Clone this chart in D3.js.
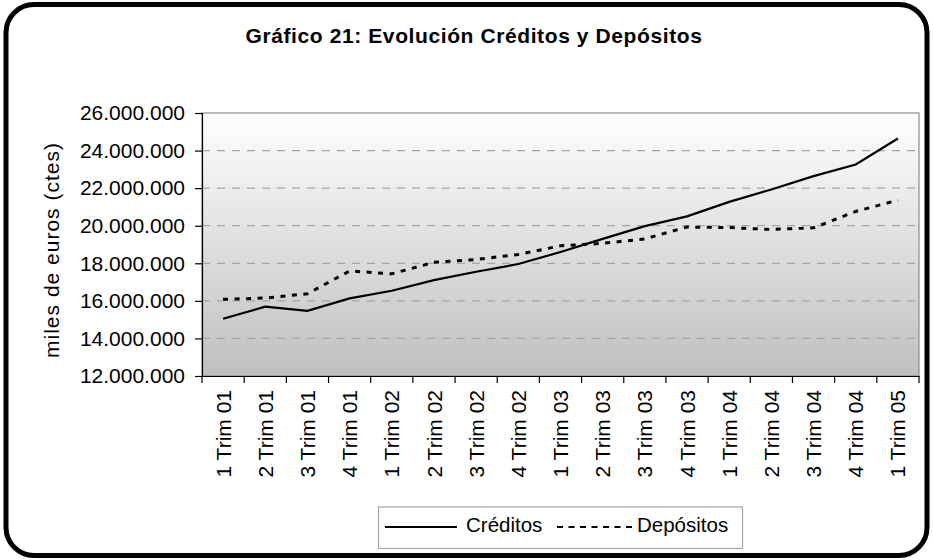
<!DOCTYPE html>
<html>
<head>
<meta charset="utf-8">
<script src="https://cdn.jsdelivr.net/npm/d3@7"></script>
<style>
  html, body { margin: 0; padding: 0; background: #fff; }
  svg { display: block; font-family: Arial, "Liberation Sans", sans-serif; }
</style>
</head>
<body>
<svg id="chart" width="933" height="560"></svg>
<script>
// ----- datos -----
const categories = ["1 Trim 01", "2 Trim 01", "3 Trim 01", "4 Trim 01",
  "1 Trim 02", "2 Trim 02", "3 Trim 02", "4 Trim 02",
  "1 Trim 03", "2 Trim 03", "3 Trim 03", "4 Trim 03",
  "1 Trim 04", "2 Trim 04", "3 Trim 04", "4 Trim 04", "1 Trim 05"];
const creditos = [15050000, 15690000, 15470000, 16130000, 16540000, 17100000, 17550000, 17960000,
  18600000, 19300000, 19980000, 20500000, 21270000, 21930000, 22640000, 23260000, 24640000];
const depositos = [16080000, 16150000, 16380000, 17590000, 17440000, 18050000, 18200000, 18470000,
  18930000, 19060000, 19300000, 19930000, 19900000, 19800000, 19890000, 20760000, 21360000];
const yTicks = [12000000, 14000000, 16000000, 18000000, 20000000, 22000000, 24000000, 26000000];
const seriesNames = ["Créditos", "Depósitos"];

const svg = d3.select("#chart");
const plot = { left: 202, right: 919, top: 113, bottom: 376 };

const fmt = d3.formatLocale({ decimal: ",", thousands: ".", grouping: [3], currency: ["", "€"] }).format(",.0f");

const x = d3.scaleBand().domain(categories).range([plot.left, plot.right]);
const y = d3.scaleLinear().domain([12000000, 26000000]).range([plot.bottom, plot.top]);

// marco exterior redondeado
svg.append("rect")
  .attr("x", 6).attr("y", 4.5)
  .attr("width", 921).attr("height", 551)
  .attr("rx", 28).attr("ry", 28)
  .attr("fill", "#fff")
  .attr("stroke", "#000")
  .attr("stroke-width", 5);

// degradado del área de trazado
const defs = svg.append("defs");
const grad = defs.append("linearGradient")
  .attr("id", "plotGrad").attr("x1", 0).attr("y1", 0).attr("x2", 0).attr("y2", 1);
grad.append("stop").attr("offset", "0%").attr("stop-color", "#ffffff");
grad.append("stop").attr("offset", "100%").attr("stop-color", "#bfbfbf");

svg.append("rect")
  .attr("x", plot.left).attr("y", plot.top)
  .attr("width", plot.right - plot.left).attr("height", plot.bottom - plot.top)
  .attr("fill", "url(#plotGrad)")
  .attr("stroke", "#8c8c8c")
  .attr("stroke-width", 1.2);

// líneas de cuadrícula
svg.append("g")
  .selectAll("line")
  .data(yTicks.filter(t => t > 12000000 && t < 26000000))
  .enter().append("line")
  .attr("x1", plot.left).attr("x2", plot.right)
  .attr("y1", d => y(d)).attr("y2", d => y(d))
  .attr("stroke", "#a6a6a6")
  .attr("stroke-width", 1.2)
  .attr("stroke-dasharray", "8,7");

// eje Y
const yAxis = svg.append("g")
  .attr("transform", `translate(${plot.left},0)`)
  .call(d3.axisLeft(y).tickValues(yTicks).tickFormat(fmt).tickSize(7).tickPadding(10));
yAxis.select(".domain").attr("stroke", "#000").attr("stroke-width", 1.2);
yAxis.selectAll(".tick line").attr("stroke", "#000").attr("stroke-width", 1.2);
yAxis.selectAll("text")
  .attr("fill", "#000")
  .style("font-size", "21px")
  .style("font-family", "Arial, 'Liberation Sans', sans-serif");

// eje X
const xAxis = svg.append("g")
  .attr("transform", `translate(0,${plot.bottom})`)
  .call(d3.axisBottom(x).tickSize(0).tickPadding(0));
xAxis.select(".domain").attr("stroke", "#000").attr("stroke-width", 1.2);
xAxis.selectAll(".tick text")
  .attr("fill", "#000")
  .attr("transform", "rotate(-90)")
  .attr("x", -14)
  .attr("y", 0)
  .attr("dy", "0.36em")
  .attr("text-anchor", "end")
  .style("font-size", "21px")
  .style("font-family", "Arial, 'Liberation Sans', sans-serif");
// marcas entre categorías
svg.append("g")
  .selectAll("line")
  .data(categories.concat(["__end"]))
  .enter().append("line")
  .attr("x1", (d, i) => i < categories.length ? x(d) : x(categories[categories.length - 1]) + x.bandwidth())
  .attr("x2", (d, i) => i < categories.length ? x(d) : x(categories[categories.length - 1]) + x.bandwidth())
  .attr("y1", plot.bottom).attr("y2", plot.bottom + 7)
  .attr("stroke", "#000").attr("stroke-width", 1.2);

// líneas de datos
const line = d3.line()
  .x((d, i) => x(categories[i]) + x.bandwidth() / 2)
  .y(d => y(d));

svg.append("path")
  .datum(creditos)
  .attr("d", line)
  .attr("fill", "none")
  .attr("stroke", "#000")
  .attr("stroke-width", 2.2);

svg.append("path")
  .datum(depositos)
  .attr("d", line)
  .attr("fill", "none")
  .attr("stroke", "#000")
  .attr("stroke-width", 3)
  .attr("stroke-dasharray", "5,6.5");

// título
svg.append("text")
  .attr("x", 474).attr("y", 43)
  .attr("text-anchor", "middle")
  .style("font-size", "21px")
  .style("font-weight", "bold")
  .style("letter-spacing", "0.6px")
  .text("Gráfico 21: Evolución Créditos y Depósitos");

// título del eje Y
svg.append("text")
  .attr("transform", "translate(59,250) rotate(-90)")
  .attr("text-anchor", "middle")
  .style("font-size", "21px")
  .style("letter-spacing", "1px")
  .text("miles de euros (ctes)");

// leyenda
const legend = svg.append("g");
legend.append("rect")
  .attr("x", 378.5).attr("y", 507)
  .attr("width", 364).attr("height", 41.5)
  .attr("fill", "#fff")
  .attr("stroke", "#a6a6a6")
  .attr("stroke-width", 1.2);
legend.append("line")
  .attr("x1", 385).attr("x2", 457).attr("y1", 527).attr("y2", 527)
  .attr("stroke", "#000").attr("stroke-width", 2);
legend.append("text")
  .attr("x", 466).attr("y", 532)
  .style("font-size", "20.5px")
  .text(seriesNames[0]);
legend.append("line")
  .attr("x1", 557).attr("x2", 634).attr("y1", 527).attr("y2", 527)
  .attr("stroke", "#000").attr("stroke-width", 2.2)
  .attr("stroke-dasharray", "6,5.5");
legend.append("text")
  .attr("x", 637).attr("y", 532)
  .style("font-size", "20.5px")
  .text(seriesNames[1]);
</script>
</body>
</html>
